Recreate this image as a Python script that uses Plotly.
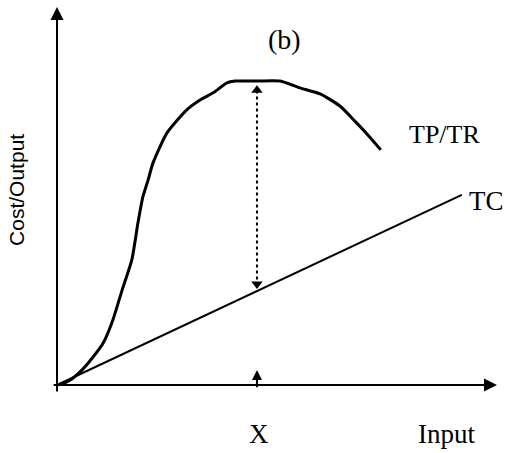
import plotly.graph_objects as go

# TP/TR curve (input vs output)
tp_x = [0.7, 3, 5.7, 8.2, 10.5, 12.7, 14.8, 17, 18.4, 19.5, 20.7, 21.8, 25, 29.5, 32.5,
        35.5, 38.6, 40.5, 45.5, 50.7, 55.2, 59.8, 64.3, 67.7, 70.7, 73.6]
tp_y = [0, 1.3, 4, 7.4, 11.1, 17.2, 25.1, 33.1, 42.9, 49.7, 54.2, 58.7, 66.7, 72.8, 75.4,
        77.3, 79.9, 80.4, 80.4, 80.4, 78.6, 77, 73.8, 69.8, 66.1, 62.2]
# TC line
tc_x = [0, 92]
tc_y = [0, 50.3]
# Marked input level X
x_mark = 45.45
tp_max = 80.4
axis_max = 100

SERIF = "Liberation Serif, Times New Roman, serif"
SANS = "Liberation Sans, Arial, sans-serif"

tc_at_x = tc_y[1] / tc_x[1] * x_mark

fig = go.Figure()
fig.add_trace(go.Scatter(x=tp_x, y=tp_y, mode="lines",
                         line=dict(color="black", width=3, shape="spline", smoothing=0.6),
                         hoverinfo="skip"))
fig.add_trace(go.Scatter(x=tc_x, y=tc_y, mode="lines",
                         line=dict(color="black", width=2), hoverinfo="skip"))
# dotted gap arrow
fig.add_trace(go.Scatter(x=[x_mark, x_mark], y=[tc_at_x + 1.5, tp_max - 2.0], mode="lines",
                         line=dict(color="black", width=2, dash="dot"), hoverinfo="skip"))
fig.add_trace(go.Scatter(x=[x_mark], y=[tp_max - 2.4], mode="markers",
                         marker=dict(symbol="triangle-up", size=10, color="black"),
                         hoverinfo="skip"))
fig.add_trace(go.Scatter(x=[x_mark], y=[tc_at_x + 1.9], mode="markers",
                         marker=dict(symbol="triangle-down", size=10, color="black"),
                         hoverinfo="skip"))

# axes with arrowheads
fig.add_annotation(x=0, y=axis_max, ax=0, ay=-2.1, xref="x", yref="y", axref="x", ayref="y",
                   text="", showarrow=True, arrowhead=2, arrowsize=1.3, arrowwidth=2,
                   arrowcolor="black")
fig.add_annotation(x=axis_max, y=0, ax=-1.1, ay=0, xref="x", yref="y", axref="x", ayref="y",
                   text="", showarrow=True, arrowhead=2, arrowsize=1.3, arrowwidth=2,
                   arrowcolor="black")
# small up arrow at X
fig.add_annotation(x=x_mark, y=4, ax=x_mark, ay=-1, xref="x", yref="y", axref="x", ayref="y",
                   text="", showarrow=True, arrowhead=2, arrowsize=1.0, arrowwidth=2,
                   arrowcolor="black")

labels = [
    ("(b)", 51.6, 91.3, SERIF, 28, 0),
    ("TP/TR", 88, 66.4, SERIF, 26, 0),
    ("TC", 97.5, 48.7, SERIF, 27, 0),
    ("X", 45.9, -13, SERIF, 27, 0),
    ("Input", 88.6, -13, SERIF, 27, 0),
    ("Cost/Output", -9.1, 51.6, SANS, 21, -90),
]
for txt, lx, ly, fam, sz, ang in labels:
    fig.add_annotation(x=lx, y=ly, xref="x", yref="y", text=txt, showarrow=False,
                       font=dict(family=fam, size=sz, color="black"), textangle=ang,
                       xanchor="center", yanchor="middle")

fig.update_layout(
    width=506, height=453, margin=dict(l=0, r=0, t=0, b=0),
    paper_bgcolor="white", plot_bgcolor="white", showlegend=False,
    xaxis=dict(range=[-57 / 4.4, 449 / 4.4], visible=False, fixedrange=True),
    yaxis=dict(range=[-68 / 3.78, 385 / 3.78], visible=False, fixedrange=True),
)
fig.write_html("out.html", config={"displayModeBar": False},
               post_script="document.body.style.margin='0';document.body.style.overflow='hidden';")
